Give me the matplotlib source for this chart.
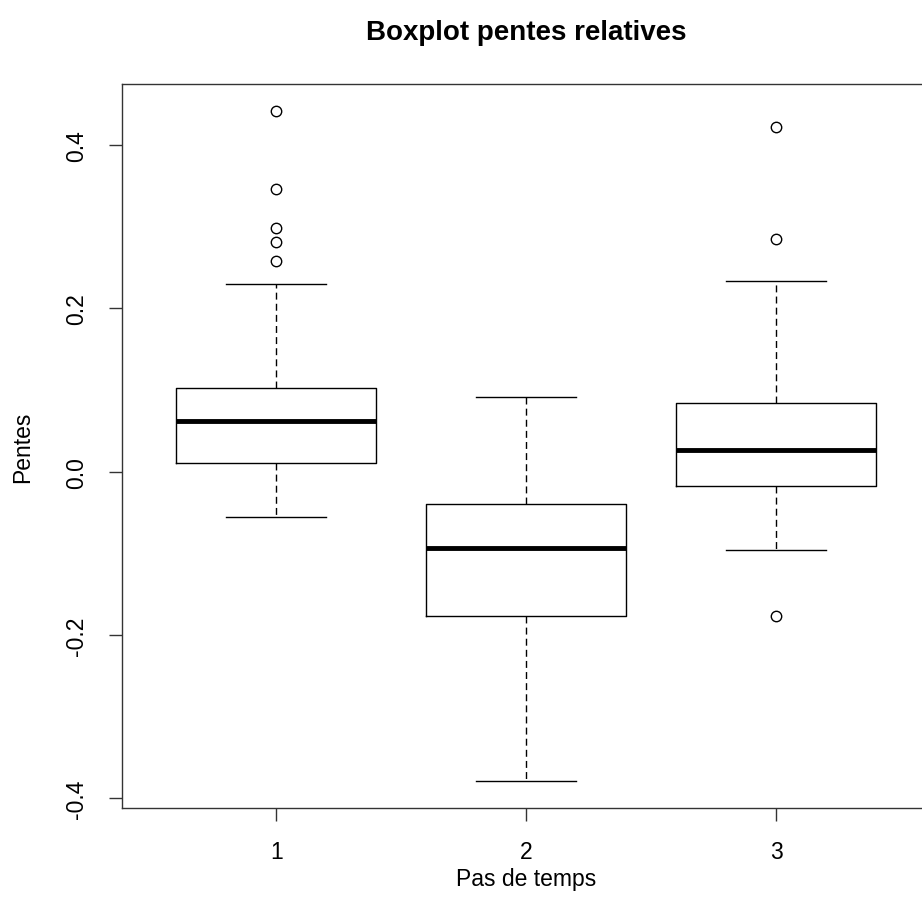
import matplotlib
matplotlib.use("Agg")
import matplotlib.pyplot as plt

plt.rcParams['font.family'] = ['Liberation Sans', 'DejaVu Sans']

# summary stats per time step (whisker ends, quartiles, median) + outliers
steps = [1, 2, 3]
whisk_lo = [-0.056, -0.379, -0.096]
q1 = [0.010, -0.177, -0.018]
med = [0.062, -0.093, 0.026]
q3 = [0.103, -0.040, 0.084]
whisk_hi = [0.230, 0.092, 0.233]
outliers = [
    [0.442, 0.346, 0.298, 0.281, 0.258],
    [],
    [0.422, 0.285, -0.177],
]
yticks = [-0.4, -0.2, 0.0, 0.2, 0.4]

stats = []
for i in range(len(steps)):
    stats.append(dict(whislo=whisk_lo[i], q1=q1[i], med=med[i], q3=q3[i],
                      whishi=whisk_hi[i], fliers=outliers[i]))

fig = plt.figure(figsize=(9.22, 9.20), dpi=100)
ax = fig.add_axes([0.1318, 0.1207, 0.878, 0.7870])

ax.bxp(stats, positions=steps, widths=0.8, capwidths=0.4,
       boxprops=dict(color='black', linewidth=1.0),
       medianprops=dict(color='black', linewidth=3.5, solid_capstyle='butt'),
       whiskerprops=dict(color='black', linewidth=1.0, dashes=(5, 3)),
       capprops=dict(color='black', linewidth=1.0),
       flierprops=dict(marker='o', markerfacecolor='none', markeredgecolor='black',
                       markersize=7.5, markeredgewidth=1.0))

ax.set_xlim(0.38, 3.62)
ax.set_ylim(-0.412, 0.475)
ax.set_xticks(steps)
ax.set_xticklabels([str(s) for s in steps])
ax.set_yticks(yticks)
ax.set_yticklabels(['%.1f' % v for v in yticks], rotation=90, va='center')

for sp in ax.spines.values():
    sp.set_linewidth(1.0)
    sp.set_color('#333333')
ax.tick_params(axis='both', direction='out', length=9.5, width=1.0,
               color='#333333', labelsize=16.5)
ax.tick_params(axis='x', pad=13.5)
ax.tick_params(axis='y', pad=14.5)

fig.text(0.5705, 0.964, 'Boxplot pentes relatives', ha='center', va='center',
         fontsize=20, fontweight='bold')
fig.text(0.5705, 0.0435, 'Pas de temps', ha='center', va='center', fontsize=16.5)
fig.text(0.025, 0.514, 'Pentes', ha='center', va='center', rotation=90,
         fontsize=16.5)

fig.savefig('out.png', dpi=100)
